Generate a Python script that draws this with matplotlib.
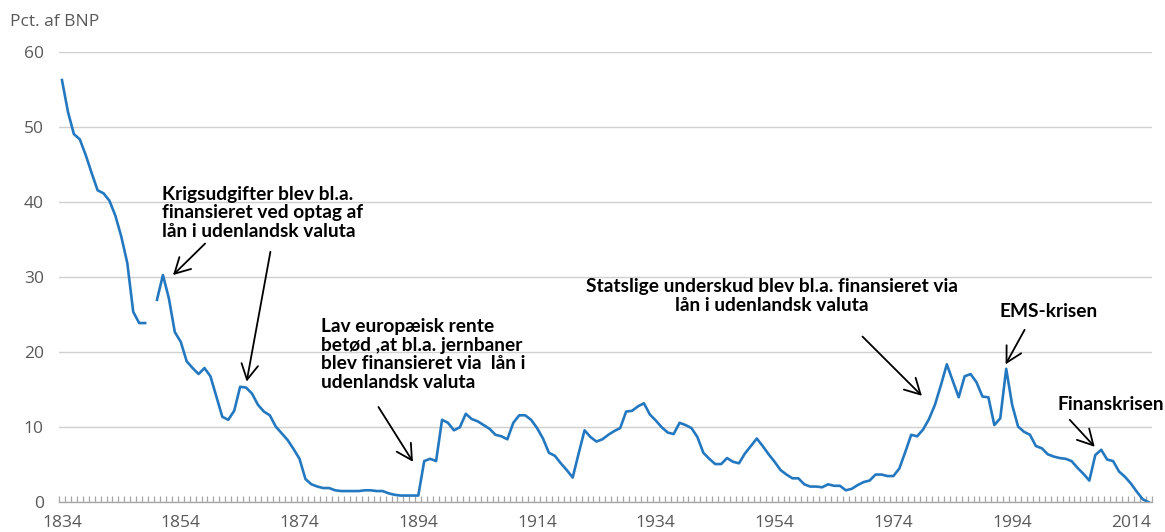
import matplotlib
matplotlib.use("Agg")
import matplotlib.pyplot as plt
import matplotlib.ticker as ticker
import numpy as np

# years 1834-2017, 1849 missing in the source series
years = np.arange(1834, 2018)
debt = [
	56.3, 52.1, 49.1, 48.4, 46.3, 43.9, 41.6, 41.2, 40.2, 38.2,   # 1834-1843
	35.4, 31.9, 25.4, 23.9, 23.9, np.nan, 27.0, 30.3, 27.2, 22.7,  # 1844-1853
	21.4, 18.8, 17.9, 17.1, 17.9, 16.8, 14.1, 11.4, 11.0, 12.2,   # 1854-1863
	15.4, 15.3, 14.5, 13.0, 12.1, 11.6, 10.1, 9.2, 8.3, 7.1,      # 1864-1873
	5.8, 3.1, 2.4, 2.1, 1.9, 1.9, 1.6, 1.5, 1.5, 1.5,             # 1874-1883
	1.5, 1.6, 1.6, 1.5, 1.5, 1.2, 1.0, 0.9, 0.9, 0.9,             # 1884-1893
	0.9, 5.5, 5.8, 5.5, 11.0, 10.6, 9.6, 10.0, 11.8, 11.1,        # 1894-1903
	10.8, 10.3, 9.8, 9.0, 8.8, 8.4, 10.6, 11.6, 11.6, 11.0,       # 1904-1913
	9.9, 8.5, 6.6, 6.2, 5.2, 4.3, 3.3, 6.5, 9.6, 8.7,             # 1914-1923
	8.1, 8.4, 9.0, 9.5, 9.9, 12.1, 12.2, 12.8, 13.2, 11.7,        # 1924-1933
	10.9, 10.0, 9.3, 9.1, 10.6, 10.3, 9.9, 8.7, 6.6, 5.8,         # 1934-1943
	5.1, 5.1, 5.9, 5.4, 5.2, 6.5, 7.5, 8.5, 7.5, 6.4,             # 1944-1953
	5.4, 4.3, 3.7, 3.2, 3.2, 2.4, 2.1, 2.1, 2.0, 2.4,             # 1954-1963
	2.2, 2.2, 1.6, 1.8, 2.3, 2.7, 2.9, 3.7, 3.7, 3.5,             # 1964-1973
	3.5, 4.5, 6.7, 9.0, 8.8, 9.7, 11.1, 13.0, 15.6, 18.4,         # 1974-1983
	16.2, 14.0, 16.8, 17.1, 16.0, 14.1, 14.0, 10.3, 11.2, 17.8,   # 1984-1993
	13.0, 10.1, 9.4, 9.0, 7.5, 7.2, 6.4, 6.1, 5.9, 5.8,           # 1994-2003
	5.5, 4.6, 3.8, 2.9, 6.3, 7.0, 5.7, 5.5, 4.1, 3.4,             # 2004-2013
	2.5, 1.4, 0.4, 0.0,                                           # 2014-2017
]
tick_years = np.arange(1834, 2015, 20)
y_ticks = [0, 10, 20, 30, 40, 50, 60]

grey = '#595959'
line_blue = '#2478c0'

fig = plt.figure(figsize=(11.65, 5.32), dpi=100)
ax = fig.add_axes([59 / 1165, 1 - 502.3 / 532, (1151.7 - 59) / 1165, 450 / 532])

ax.plot(years, debt, color=line_blue, linewidth=1.9, solid_joinstyle='round')

ax.set_xlim(1833.5, 2017.5)
ax.set_ylim(0, 60)

# horizontal gridlines only
ax.set_yticks(y_ticks)
ax.grid(axis='y', color='#d0d0d0', linewidth=1.0)
ax.set_axisbelow(True)
for side in ['top', 'right', 'left']:
	ax.spines[side].set_visible(False)
ax.spines['bottom'].set_color('#a6a6a6')
ax.spines['bottom'].set_linewidth(1.0)

# labels every 20 years, small tick marks between each year
ax.set_xticks(tick_years)
ax.xaxis.set_minor_locator(ticker.FixedLocator(np.arange(1833.5, 2018, 1)))
ax.tick_params(axis='x', which='major', length=0, pad=9, labelsize=12.5, labelcolor=grey)
ax.tick_params(axis='x', which='minor', direction='in', length=4.5, width=0.9, color='#a6a6a6')
ax.tick_params(axis='y', length=0, pad=11, labelsize=12.5, labelcolor=grey)
for lab in ax.get_xticklabels() + ax.get_yticklabels():
	lab.set_fontfamily('Open Sans')

fig.text(10 / 1165, 1 - 22 / 532, 'Pct. af BNP', fontsize=12.5, color=grey,
	family='Open Sans', va='center', ha='left')

# annotations
txt = dict(fontsize=13.8, fontweight='bold', family='Lato', color='black', linespacing=1.12)
arr = dict(arrowstyle='->,head_length=0.55,head_width=0.3', color='black', lw=1.3,
	mutation_scale=20, shrinkA=0, shrinkB=0)

ax.text(1850.8, 38.6, 'Krigsudgifter blev bl.a.\nfinansieret ved optag af\nlån i udenlandsk valuta',
	ha='left', va='center', **txt)
ax.annotate('', xy=(1852.7, 30.3), xytext=(1858.1, 34.5), arrowprops=arr)
ax.annotate('', xy=(1865.1, 16.1), xytext=(1869.1, 33.4), arrowprops=arr)

ax.text(1877.6, 19.7, 'Lav europæisk rente\nbetød ,at bl.a. jernbaner\nblev finansieret via  lån i\nudenlandsk valuta',
	ha='left', va='center', **txt)
ax.annotate('', xy=(1893.1, 5.4), xytext=(1887.3, 12.7), arrowprops=arr)

ax.text(1953.5, 27.5, 'Statslige underskud blev bl.a. finansieret via\nlån i udenlandsk valuta',
	ha='center', va='center', multialignment='center', **txt)
ax.annotate('', xy=(1978.8, 14.2), xytext=(1968.8, 22.1), arrowprops=arr)

ax.text(2000.2, 25.5, 'EMS-krisen', ha='center', va='center', **txt)
ax.annotate('', xy=(1992.9, 18.4), xytext=(1996.1, 23.0), arrowprops=arr)

ax.text(2001.7, 13.0, 'Finanskrisen', ha='left', va='center', clip_on=False, **txt)
ax.annotate('', xy=(2007.9, 7.4), xytext=(2003.7, 11.0), arrowprops=arr)

plt.savefig('out.png', dpi=100)
